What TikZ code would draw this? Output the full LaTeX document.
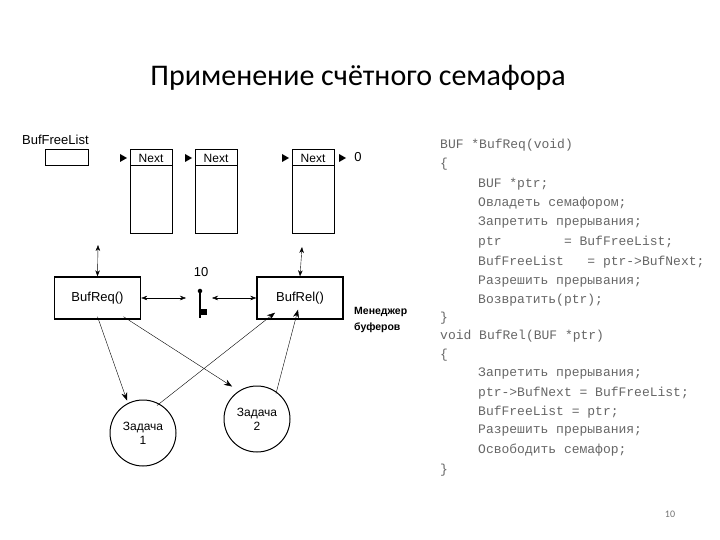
\documentclass[tikz,border=0pt]{standalone}
\usepackage{fontspec}
\setmainfont{Liberation Sans}
\newfontfamily\titlefont{Carlito}
\newfontfamily\codefont{Liberation Mono}
\usetikzlibrary{arrows.meta,positioning}
\begin{document}
\begin{tikzpicture}[x=1pt,y=-1pt,
    buf/.style={draw,minimum width=42pt,minimum height=84pt,inner sep=0pt},
    func/.style={draw,line width=1.4pt,minimum width=86pt,minimum height=42pt,font=\fontsize{13}{15}\selectfont},
    task/.style={draw,circle,line width=1pt,minimum size=66pt,align=center,font=\fontsize{12}{14}\selectfont},
    dbl/.style={{Stealth[length=6pt]}-{Stealth[length=6pt]}},
    arr/.style={-{Stealth[length=8pt,width=6pt]},thin},
    code/.style={anchor=west,inner sep=0pt,text=black!60,font=\codefont\fontsize{13}{15}\selectfont}]
  \newcommand\tri[1]{\fill (#1) ++(-7,-4) -- ++(7,4) -- ++(-7,4) -- cycle;}
  \useasboundingbox (0,0) rectangle (720,540);
  \node (title) at (358,78) {\titlefont\fontsize{30}{34}\selectfont Применение счётного семафора};
  % free list
  \node[anchor=west,inner sep=0pt,font=\fontsize{13}{15}\selectfont] (fl) at (22,140) {BufFreeList};
  \node[draw,minimum width=43pt,minimum height=16pt,inner sep=0pt] (flbox) at (66.5,157) {};
  \foreach \n/\x in {b1/151,b2/216,b3/313}{
    \node[buf] (\n) at (\x,191) {};
    \draw (\x-21,165) -- (\x+21,165);
    \node[font=\fontsize{12}{14}\selectfont] at (\x,158) {Next};
    \tri{\x-24,158}
  }
  \node[font=\fontsize{13}{15}\selectfont] (zero) at (358,157) {0};
  \tri{346,158}
  % managers
  \node[func] (req) at (97.5,298) {BufReq()};
  \node[func] (rel) at (300,298) {BufRel()};
  \node[font=\fontsize{13}{15}\selectfont] (ten) at (201,272) {10};
  \node[circle,fill,inner sep=1.6pt] (sem) at (200,291) {};
  \draw[line width=1.3pt] (sem) -- (200,318);
  \fill (200,309) rectangle (207,315);
  \draw[dbl] (req.east) -- (186,298);
  \draw[dbl] (212,298) -- (rel.west);
  \draw[dbl] (req.north) -- (98,245);
  \draw[dbl] (rel.north) -- (302,247);
  \node[anchor=north west,align=left,inner sep=0pt,font=\fontsize{10.5}{16}\selectfont\bfseries] (mgr) at (354,307) {Менеджер\\буферов};
  % tasks
  \node[task] (t1) at (143,433) {Задача\\1};
  \node[task] (t2) at (257,419) {Задача\\2};
  \draw[arr] ([yshift=3pt]req.south) -- ([xshift=-16pt,yshift=-1pt]t1.north);
  \draw[arr] ([xshift=26pt,yshift=3pt]req.south) -- ([xshift=-25pt,yshift=-1pt]t2.north);
  \draw[arr] ([xshift=14pt,yshift=-6pt]t1.north) -- ([xshift=-25pt,yshift=7pt]rel.south);
  \draw[arr] ([xshift=19pt,yshift=-8pt]t2.north) -- ([xshift=-2pt,yshift=10pt]rel.south);
  % code
  \foreach \y/\x/\t in {145/440/{BUF *BufReq(void)},164/440/{\{},184/478/{BUF *ptr;},203/478/{Овладеть семафором;},223/478/{Запретить прерывания;},242/478/{ptr\hphantom{xxxxxxxx}= BufFreeList;},262/478/{BufFreeList\hphantom{xxx}= ptr->BufNext;},282/478/{Разрешить прерывания;},300/478/{Возвратить(ptr);},318/440/{\}},336/440/{void BufRel(BUF *ptr)},355/440/{\{},374/478/{Запретить прерывания;},393/478/{ptr->BufNext = BufFreeList;},412/478/{BufFreeList = ptr;},431/478/{Разрешить прерывания;},450/478/{Освободить семафор;},470/440/{\}}}
    \node[code] at (\x,\y) {\t};
  \node[text=black!55,font=\titlefont\fontsize{10}{12}\selectfont] (page) at (670,514) {10};
\end{tikzpicture}
\end{document}
